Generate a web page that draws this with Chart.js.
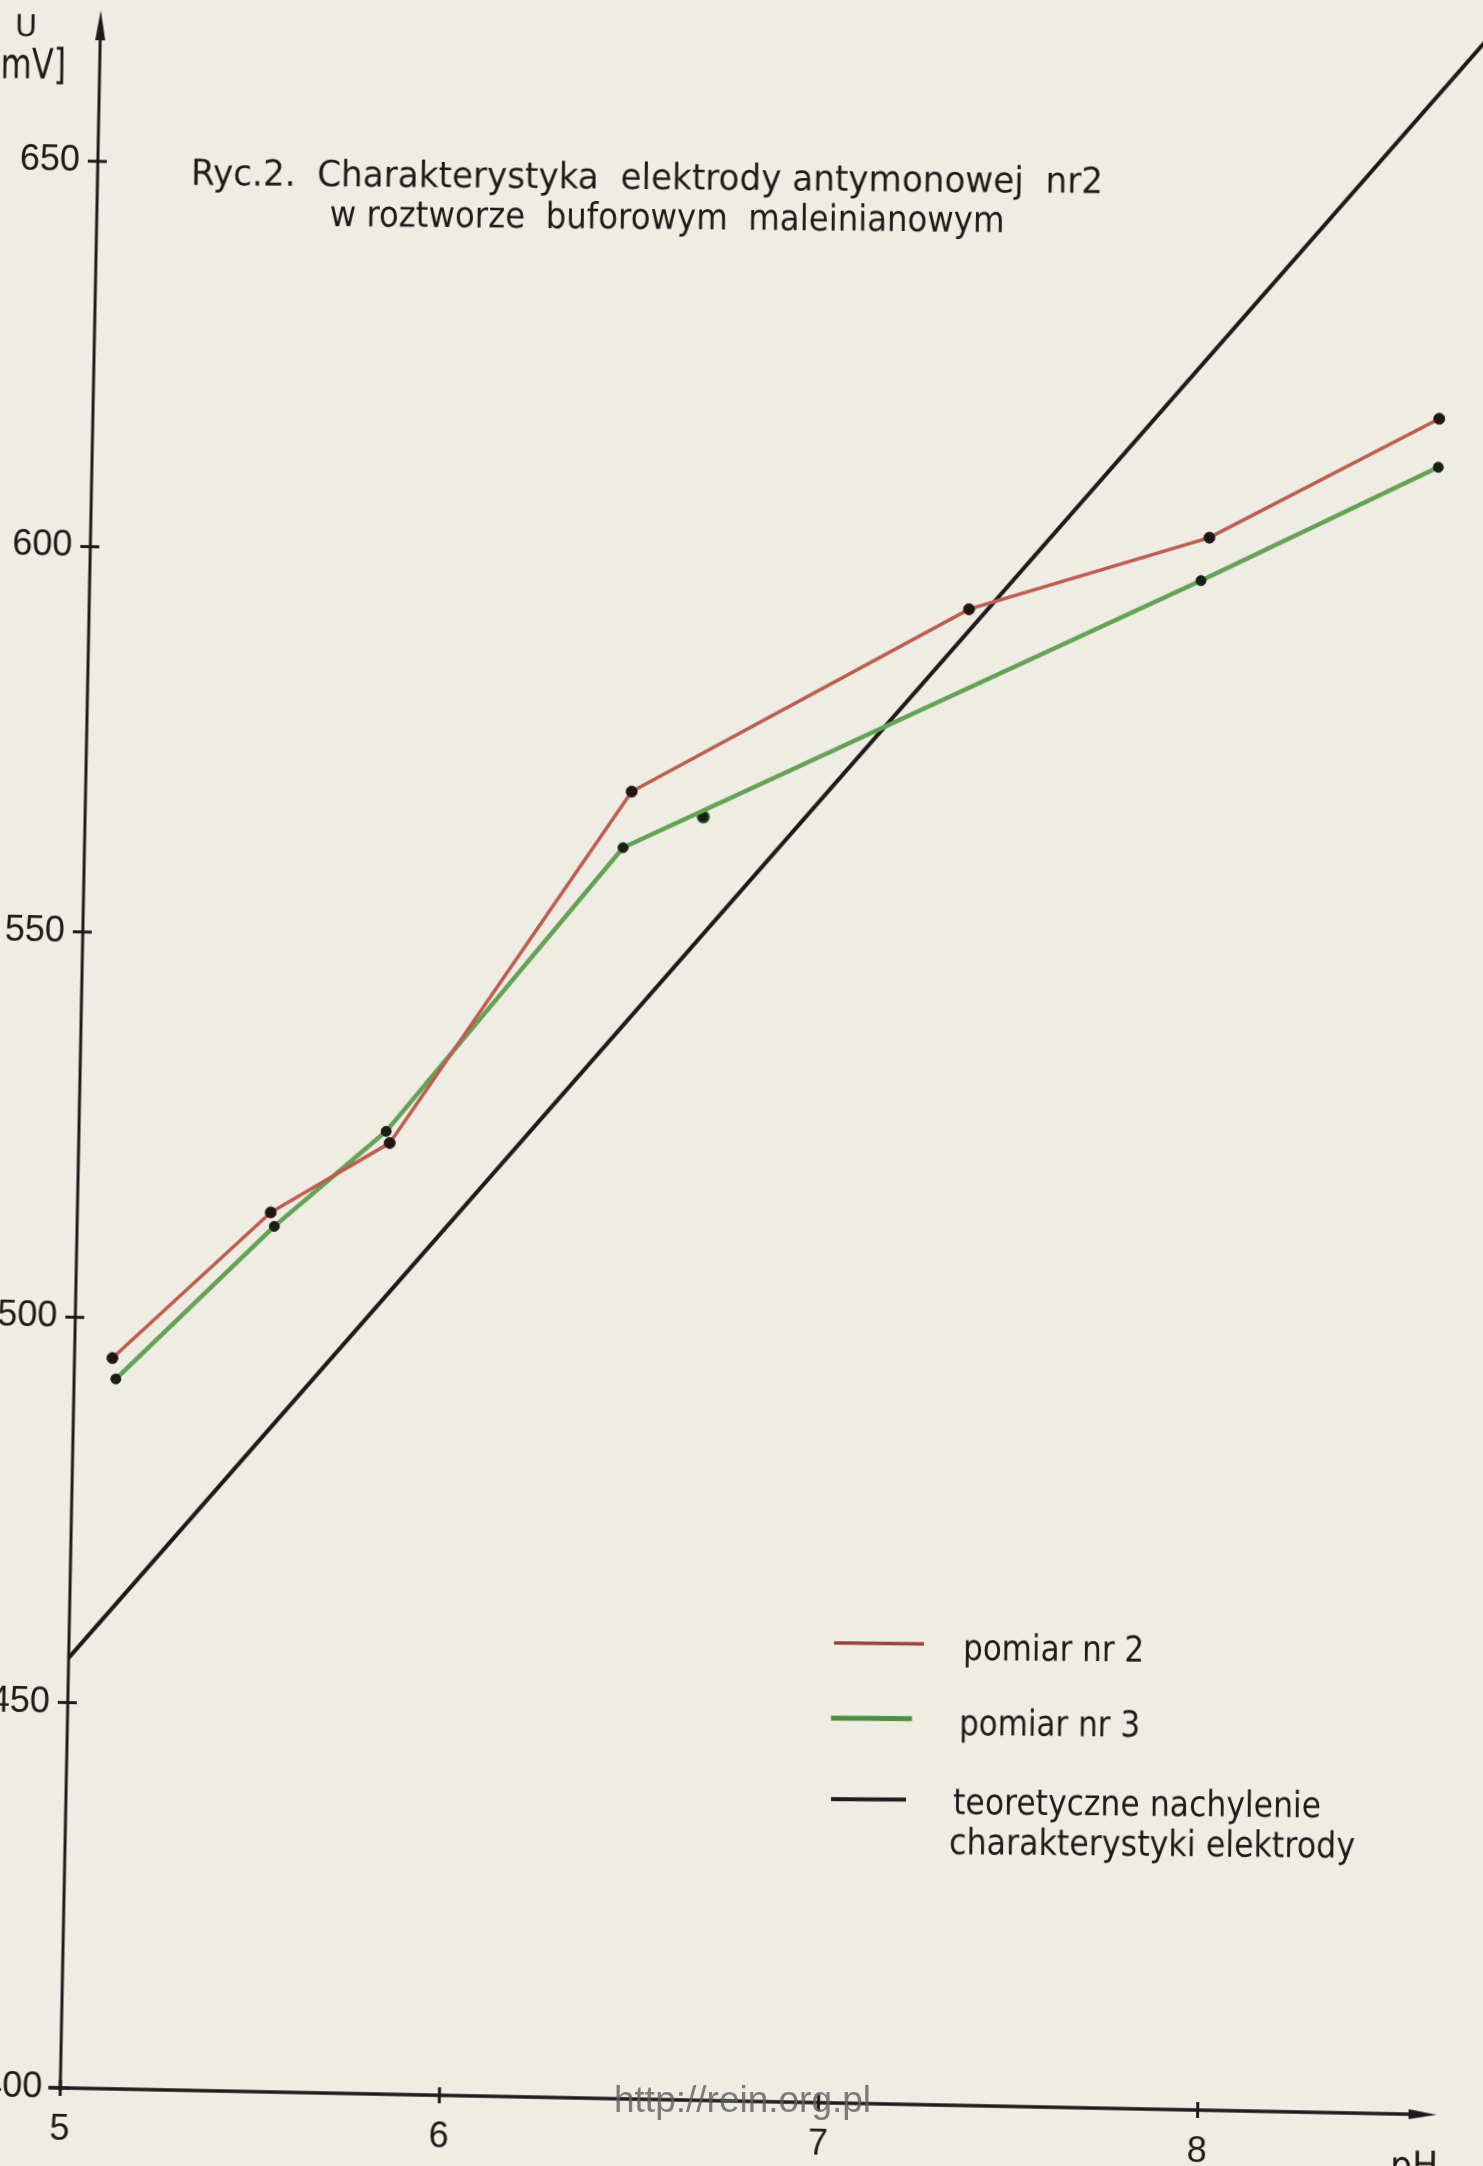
<!DOCTYPE html>
<html>
<head>
<meta charset="utf-8">
<script src="https://cdn.jsdelivr.net/npm/chart.js@4/dist/chart.umd.min.js"></script>
<style>
html,body{margin:0;padding:0;background:#eeece3;overflow:hidden;}
#wrap{position:relative;width:1483px;height:2166px;overflow:hidden;background:#eeece3;}
#c{position:absolute;left:-38px;top:-37px;width:1560px;height:2240px;transform-origin:50% 50%;}
#wm{position:absolute;left:614px;top:2081px;font:37px/37px "Liberation Sans",Arial,sans-serif;color:rgba(95,95,95,0.8);white-space:nowrap;}
</style>
</head>
<body>
<div id="wrap">
  <canvas id="c" width="1560" height="2240"></canvas>
  <div id="wm">http://rein.org.pl</div>
</div>
<script>
// ---- data ----
const xTicks = [5, 6, 7, 8];
const yTicks = [400, 450, 500, 550, 600, 650];

const phRed = [5.10, 5.51, 5.82, 6.44, 7.32, 7.95, 8.55];
const mvRed = [494.8, 514.1, 523.4, 569.6, 594.1, 604.0, 620.0];

const phGreen = [5.11, 5.52, 5.81, 6.42, 7.93, 8.55];
const mvGreen = [492.1, 512.3, 524.9, 562.3, 598.4, 613.7];

const phGreenExtra = [6.63];
const mvGreenExtra = [566.5];

const phTheory = [5.0, 8.66];
const mvTheory = [455.8, 669.5];

const seriesNames = ['pomiar nr 2', 'pomiar nr 3', 'teoretyczne nachylenie', 'charakterystyki elektrody'];
const titleLines = ['Ryc.2.  Charakterystyka  elektrody antymonowej  nr2', 'w roztworze  buforowym  maleinianowym'];
const axisTitleY = ['U', '[mV]'];
const axisTitleX = 'pH';

// ---- styling / page geometry ----
const FONT = '"DejaVu Sans", sans-serif';
const TICKFONT = '"Liberation Sans", Arial, sans-serif';
const INK = '#1d1c1a';
const RED = '#bd5d4f';
const GREEN = '#64a355';
const PAPER = '#eeece3';
const X_MIN = 5, X_MAX = 8.80, X_ARROW = 8.63;
const Y_MIN = 400, Y_MAX = 669.6;

// the scanned sheet is turned slightly; the canvas is turned the same way
const THETA = 0.0195;      // tilt of the axes
const TEXT_TILT = 0.009;   // lettering is turned less than the axes
const OX = 38, OY = 37;    // canvas offset inside the page
const CX = 742, CY = 1083; // page position of the canvas centre
function toLocal(sx, sy) {
  const dx = sx - CX, dy = sy - CY, c = Math.cos(THETA), s = Math.sin(THETA);
  return [CX + dx * c + dy * s + OX, CY - dx * s + dy * c + OY];
}
document.getElementById('c').style.transform = 'rotate(' + THETA + 'rad)';

const pts = (xs, ys) => xs.map((x, i) => ({x: x, y: ys[i]}));

function textAt(ctx, text, sx, sy, font, width, center) {
  const p = toLocal(sx, sy);
  ctx.save();
  ctx.font = font;
  ctx.fillStyle = INK;
  ctx.textAlign = 'left';
  ctx.textBaseline = 'alphabetic';
  const w = ctx.measureText(text).width;
  const s = width ? width / w : 1;
  ctx.translate(p[0], p[1]);
  ctx.rotate(TEXT_TILT - THETA);
  ctx.scale(s, 1);
  ctx.fillText(text, center ? -w / 2 : 0, 0);
  ctx.restore();
}
function legendLine(ctx, sx1, sx2, sy, color, lw) {
  const p = toLocal(sx1, sy);
  const a = TEXT_TILT - THETA, len = sx2 - sx1;
  ctx.save();
  ctx.strokeStyle = color; ctx.lineWidth = lw; ctx.lineCap = 'butt';
  ctx.beginPath();
  ctx.moveTo(p[0], p[1]);
  ctx.lineTo(p[0] + len * Math.cos(a), p[1] + len * Math.sin(a));
  ctx.stroke();
  ctx.restore();
}

const paperPlugin = {
  id: 'paper',
  beforeDraw(chart) {
    const ctx = chart.ctx;
    ctx.save();
    ctx.fillStyle = PAPER;
    ctx.fillRect(0, 0, chart.width, chart.height);
    ctx.restore();
  }
};

const axesPlugin = {
  id: 'axesDraw',
  beforeDatasetsDraw(chart) {
    const ctx = chart.ctx;
    const xs = chart.scales.x, ys = chart.scales.y;
    const x0 = xs.getPixelForValue(X_MIN);
    const y0 = ys.getPixelForValue(Y_MIN);
    const top = chart.chartArea.top;
    const xEnd = xs.getPixelForValue(X_ARROW);
    ctx.save();
    ctx.strokeStyle = INK;
    ctx.fillStyle = INK;
    ctx.lineWidth = 3;
    ctx.lineCap = 'butt';
    // y axis with arrow
    ctx.beginPath();
    ctx.moveTo(x0, y0 + 3);
    ctx.lineTo(x0, top + 20);
    ctx.stroke();
    ctx.beginPath();
    ctx.moveTo(x0, top);
    ctx.lineTo(x0 - 5, top + 30);
    ctx.lineTo(x0 + 5, top + 30);
    ctx.closePath();
    ctx.fill();
    // x axis with arrow
    ctx.lineWidth = 3.5;
    ctx.beginPath();
    ctx.moveTo(x0 - 12, y0);
    ctx.lineTo(xEnd - 18, y0);
    ctx.stroke();
    ctx.beginPath();
    ctx.moveTo(xEnd, y0);
    ctx.lineTo(xEnd - 28, y0 - 5);
    ctx.lineTo(xEnd - 28, y0 + 5);
    ctx.closePath();
    ctx.fill();
    // crossing ticks
    ctx.lineWidth = 3;
    yTicks.forEach(v => {
      const y = ys.getPixelForValue(v);
      ctx.beginPath();
      ctx.moveTo(x0 - 10, y);
      ctx.lineTo(x0 + 9, y);
      ctx.stroke();
    });
    xTicks.forEach(v => {
      const x = xs.getPixelForValue(v);
      ctx.beginPath();
      ctx.moveTo(x, y0 - 8);
      ctx.lineTo(x, y0 + 8);
      ctx.stroke();
    });
    ctx.restore();
  }
};

const textPlugin = {
  id: 'texts',
  afterDraw(chart) {
    const ctx = chart.ctx;
    // title
    textAt(ctx, titleLines[0], 647, 189, '36px ' + FONT, 912, true);
    textAt(ctx, titleLines[1], 667, 229, '36px ' + FONT, 675, true);
    // axis titles
    textAt(ctx, axisTitleY[0], 15, 36, '30px ' + FONT, 22);
    textAt(ctx, axisTitleY[1], -12, 78, '42px ' + FONT, 78);
    textAt(ctx, axisTitleX, 1390, 2178, '38px ' + FONT, 48);
    // legend
    legendLine(ctx, 834, 924, 1643, '#9b4239', 3.5);
    legendLine(ctx, 831, 912, 1718, '#4e8d43', 5);
    legendLine(ctx, 831, 906, 1799, INK, 4);
    textAt(ctx, seriesNames[0], 963, 1660, '36px ' + FONT, 181);
    textAt(ctx, seriesNames[1], 959, 1735, '36px ' + FONT, 181);
    textAt(ctx, seriesNames[2], 953, 1814, '36px ' + FONT, 368);
    textAt(ctx, seriesNames[3], 949, 1854, '36px ' + FONT, 406);
  }
};

new Chart(document.getElementById('c'), {
  type: 'scatter',
  data: {
    datasets: [
      {
        label: seriesNames[0],
        data: pts(phRed, mvRed),
        showLine: true,
        borderColor: RED,
        borderWidth: 3.5,
        pointRadius: 5.5,
        pointBackgroundColor: '#1f1716',
        pointBorderColor: '#3a1a16',
        pointBorderWidth: 1,
        tension: 0
      },
      {
        label: seriesNames[1],
        data: pts(phGreen, mvGreen),
        showLine: true,
        borderColor: GREEN,
        borderWidth: 4.5,
        pointRadius: 5,
        pointBackgroundColor: '#1a1f18',
        pointBorderColor: '#1a2a18',
        pointBorderWidth: 1,
        tension: 0
      },
      {
        label: seriesNames[1] + ' (punkt)',
        data: pts(phGreenExtra, mvGreenExtra),
        showLine: false,
        pointRadius: 6,
        pointBackgroundColor: '#1a1f18',
        pointBorderColor: '#3f7a35',
        pointBorderWidth: 1.5
      },
      {
        label: seriesNames[2] + ' ' + seriesNames[3],
        data: pts(phTheory, mvTheory),
        showLine: true,
        borderColor: INK,
        borderWidth: 4,
        pointRadius: 0,
        tension: 0,
        clip: false
      }
    ]
  },
  options: {
    responsive: false,
    animation: false,
    events: [],
    layout: { autoPadding: false, padding: { top: 60, left: 0, right: 1, bottom: 0 } },
    plugins: {
      legend: { display: false },
      tooltip: { enabled: false },
      title: { display: false }
    },
    scales: {
      x: {
        type: 'linear',
        min: X_MIN,
        max: X_MAX,
        afterFit: s => { s.height = 102; s.paddingLeft = 0; s.paddingRight = 0; },
        afterBuildTicks: s => { s.ticks = xTicks.map(v => ({ value: v })); },
        ticks: {
          font: { family: TICKFONT, size: 36 },
          color: INK,
          padding: 20,
          maxRotation: 0,
          autoSkip: false,
          callback: v => String(v)
        },
        grid: { display: false, drawTicks: false },
        border: { display: false }
      },
      y: {
        type: 'linear',
        min: Y_MIN,
        max: Y_MAX,
        afterFit: s => { s.width = 118; s.paddingTop = 0; s.paddingBottom = 0; },
        afterBuildTicks: s => { s.ticks = yTicks.map(v => ({ value: v })); },
        ticks: {
          font: { family: TICKFONT, size: 36 },
          color: INK,
          padding: 18,
          autoSkip: false,
          callback: v => String(v)
        },
        grid: { display: false, drawTicks: false },
        border: { display: false }
      }
    }
  },
  plugins: [paperPlugin, axesPlugin, textPlugin]
});
</script>
</body>
</html>
